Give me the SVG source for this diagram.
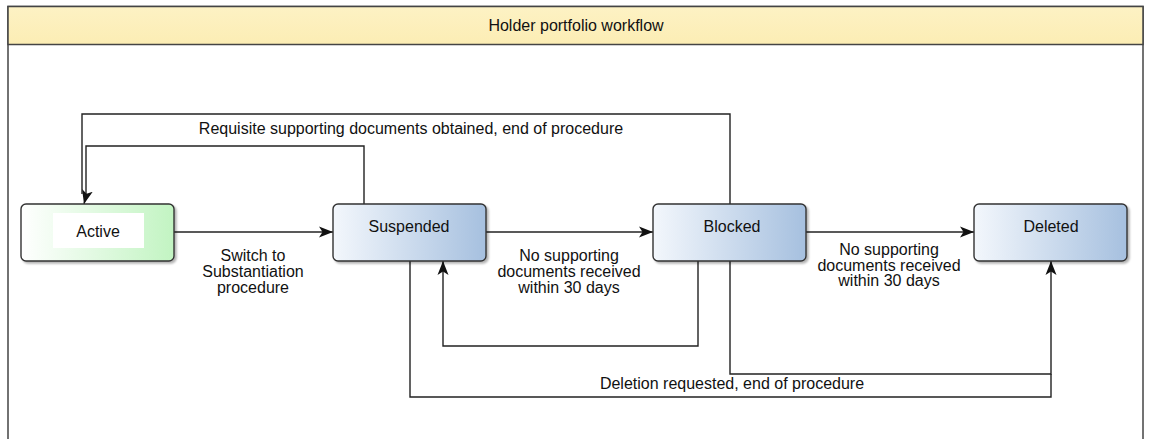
<svg xmlns="http://www.w3.org/2000/svg" width="1152" height="439" viewBox="0 0 1152 439">
<defs>
<linearGradient id="gBlue" x1="0" y1="0" x2="1" y2="0">
<stop offset="0" stop-color="#f3f7fc"/>
<stop offset="1" stop-color="#a6c0df"/>
</linearGradient>
<linearGradient id="gGreen" x1="0" y1="0" x2="1" y2="0">
<stop offset="0" stop-color="#ffffff"/>
<stop offset="1" stop-color="#c2f4c2"/>
</linearGradient>
<linearGradient id="gTitle" x1="0" y1="0" x2="0" y2="1">
<stop offset="0" stop-color="#fdf2c4"/>
<stop offset="1" stop-color="#fcedb4"/>
</linearGradient>
<marker id="arr" markerUnits="userSpaceOnUse" markerWidth="15" markerHeight="12" refX="14" refY="6" orient="auto">
<path d="M0,0.5 L14,6 L0,11.5 L3.5,6 Z" fill="#111"/>
</marker>
<filter id="sh" x="-5%" y="-10%" width="115%" height="130%">
<feGaussianBlur in="SourceAlpha" stdDeviation="1.2"/>
<feOffset dx="2" dy="2" result="b"/>
<feComponentTransfer><feFuncA type="linear" slope="0.3"/></feComponentTransfer>
<feMerge><feMergeNode/><feMergeNode in="SourceGraphic"/></feMerge>
</filter>
</defs>
<style>
text{font-family:"Liberation Sans",Arial,sans-serif;font-size:16px;fill:#111;text-anchor:middle}
.node{stroke:#333;stroke-width:1.4}
.conn{fill:none;stroke:#222;stroke-width:1.4}
</style>
<rect width="1152" height="439" fill="#ffffff"/>
<g id="frame">
<rect x="8" y="6.5" width="1135" height="440" fill="#ffffff" stroke="#444" stroke-width="1.5"/>
<rect x="8" y="6.5" width="1135" height="38" fill="url(#gTitle)" stroke="#444" stroke-width="1.5"/>
<text x="576" y="31">Holder portfolio workflow</text>
</g>
<g id="connectors">
<path class="conn" d="M174,232 H333" marker-end="url(#arr)"/>
<path class="conn" d="M486,232 H653" marker-end="url(#arr)"/>
<path class="conn" d="M806,232 H974" marker-end="url(#arr)"/>
<path class="conn" d="M364,204 V146 H86 V196 L84,204" marker-end="url(#arr)"/>
<path class="conn" d="M730,204 V114 H82 V194"/>
<path class="conn" d="M698,261 V346 H443 V261" marker-end="url(#arr)"/>
<path class="conn" d="M730,261 V374 H1051 V261" marker-end="url(#arr)"/>
<path class="conn" d="M410,261 V397 H1051 V374"/>
<text x="411" y="134">Requisite supporting documents obtained, end of procedure</text>
<text x="253" y="261">Switch to</text>
<text x="253" y="277">Substantiation</text>
<text x="253" y="293">procedure</text>
<text x="569" y="261">No supporting</text>
<text x="569" y="277">documents received</text>
<text x="569" y="293">within 30 days</text>
<text x="889" y="255">No supporting</text>
<text x="889" y="271">documents received</text>
<text x="889" y="286">within 30 days</text>
<text x="732" y="389">Deletion requested, end of procedure</text>
</g>
<g id="active">
<rect class="node" x="21" y="204" width="153" height="57" rx="5" fill="url(#gGreen)" filter="url(#sh)"/>
<rect x="53" y="213" width="91" height="35" fill="#ffffff"/>
<text x="98" y="237">Active</text>
</g>
<g id="suspended">
<rect class="node" x="333" y="204" width="153" height="57" rx="5" fill="url(#gBlue)" filter="url(#sh)"/>
<text x="409" y="232">Suspended</text>
</g>
<g id="blocked">
<rect class="node" x="653" y="204" width="153" height="57" rx="5" fill="url(#gBlue)" filter="url(#sh)"/>
<text x="732" y="232">Blocked</text>
</g>
<g id="deleted">
<rect class="node" x="974" y="204" width="153" height="57" rx="5" fill="url(#gBlue)" filter="url(#sh)"/>
<text x="1051" y="232">Deleted</text>
</g>
</svg>
